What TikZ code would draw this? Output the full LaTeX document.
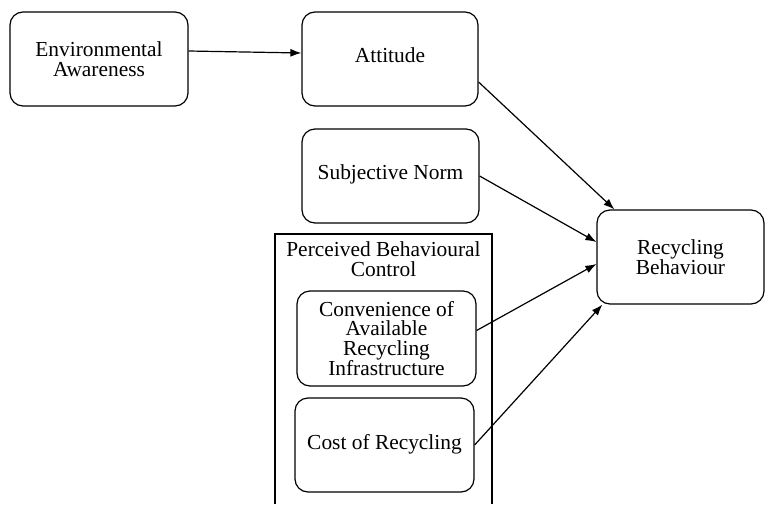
\documentclass[tikz,border=0pt]{standalone}
\usepackage{fontspec}
\setmainfont{Liberation Serif}
\usetikzlibrary{arrows.meta}

\begin{document}
\begin{tikzpicture}[x=1pt, y=-1pt,
		box/.style={draw, line width=1.2pt, rounded corners=13pt, align=center,
			minimum width=178pt, minimum height=94pt, inner sep=0pt},
		onerow/.style={text depth=7pt},
		link/.style={line width=1.2pt, -{Latex[length=11pt,width=8pt]}},
		font=\fontsize{21.4}{19.5}\selectfont]
			%%%%% START %%%%%
			
			\useasboundingbox (0,0) rectangle (766,504);
			
			\node[box] (awareness) at (99,59) {Environmental\\Awareness};
			\node[box, onerow, minimum width=176pt] (attitude) at (390,59) {Attitude};
			\node[box, onerow, minimum width=177pt] (norm) at (390.5,176) {Subjective Norm};
			
			\draw[line width=1.2pt] (275,504) -- (275,234) -- (492,234) -- (492,504);
			\node[align=center] (pbc) at (383.5,259) {Perceived Behavioural\\Control};
			
			\node[box, minimum width=179pt, minimum height=95pt] (convenience) at (386.5,338.5) {Convenience of\\Available\\Recycling\\Infrastructure};
			\node[box, onerow, minimum width=179pt] (cost) at (384.5,445) {Cost of Recycling};
			
			\node[box, minimum width=167pt] (behaviour) at (680.5,257) {Recycling\\Behaviour};
			
			\draw[link] ([yshift=8pt]awareness.east) -- ([yshift=6pt]attitude.west);
			\draw[link] ([yshift=-23pt]attitude.east) -- ([xshift=18pt]behaviour.north west);
			\draw[link] (norm.east) -- ([yshift=15pt]behaviour.west);
			\draw[link] ([yshift=8pt]convenience.east) -- ([yshift=-7pt]behaviour.west);
			\draw[link] (cost.east) -- ([xshift=6pt]behaviour.south west);
			
			%%%%% END %%%%%
\end{tikzpicture}
\end{document}
